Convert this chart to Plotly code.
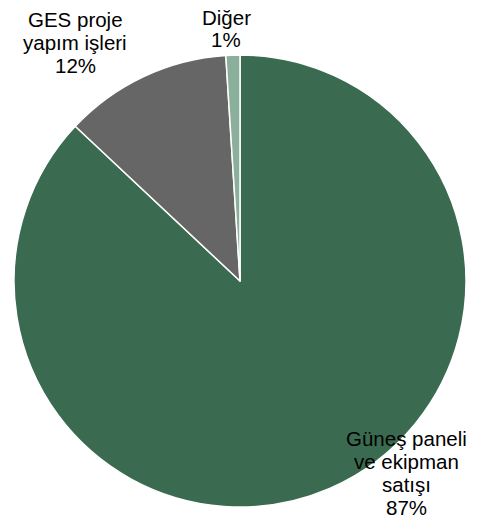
import plotly.graph_objects as go

# Revenue breakdown by business line
labels = ["Güneş paneli<br>ve ekipman<br>satışı", "GES proje<br>yapım işleri", "Diğer"]
shares = [87, 12, 1]
colors = ["#3a6b50", "#666666", "#8aaf9b"]

W, H = 478, 526
cx, cy, r = 240, 281, 226

fig = go.Figure(go.Pie(
    labels=labels,
    values=shares,
    sort=False,
    direction="clockwise",
    rotation=0,
    marker=dict(colors=colors, line=dict(color="white", width=1.5)),
    textinfo="none",
    hoverinfo="label+percent",
    showlegend=False,
    domain=dict(x=[(cx - r) / W, (cx + r) / W],
                y=[(H - cy - r) / H, (H - cy + r) / H]),
))

# Label blocks: centre x and first-line y (pixels), drawn line by line
# so the line spacing stays tight
label_pos = [(406, 438), (75, 19), (226, 17)]
line_gap = 23
font = dict(family="Liberation Sans, Arial, sans-serif", size=20.5, color="#000000")

annotations = []
for lab, val, (px, py) in zip(labels, shares, label_pos):
    lines = lab.split("<br>") + [f"{val}%"]
    for i, line in enumerate(lines):
        annotations.append(dict(
            text=line,
            x=px / W, y=1 - (py + i * line_gap) / H, xref="paper", yref="paper",
            xanchor="center", yanchor="middle", showarrow=False,
            font=font,
        ))

fig.update_layout(
    width=W, height=H,
    margin=dict(l=0, r=0, t=0, b=0),
    paper_bgcolor="white", plot_bgcolor="white",
    annotations=annotations,
)

fig.write_html("out.html")
